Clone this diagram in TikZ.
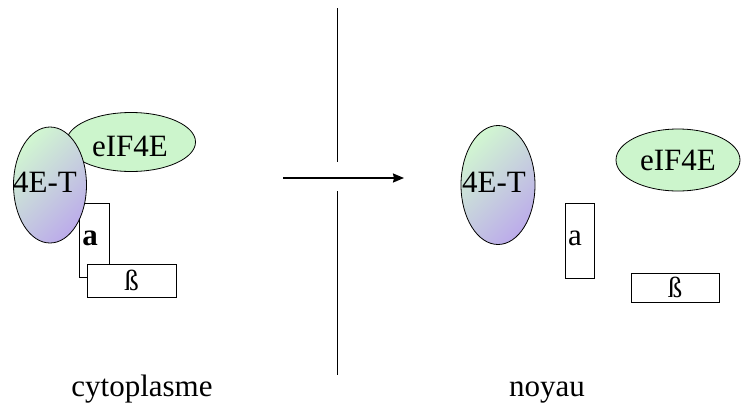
\documentclass[tikz,border=0pt]{standalone}
\usepackage{fontspec}
\setmainfont{Liberation Serif}
\usetikzlibrary{shapes.geometric,arrows.meta}
\definecolor{protgreen}{HTML}{CCF5CC}
\definecolor{protlilac}{HTML}{BCACEA}
\tikzset{
  lbl/.style={font=\fontsize{31}{34}\selectfont},
  eif/.style={ellipse, draw=black, line width=0.8pt, fill=protgreen, inner sep=0pt, lbl},
  fourET/.style={ellipse, draw=black, line width=0.8pt, inner sep=0pt,
    top color=protgreen!90!white, bottom color=protlilac, shading angle=45, lbl},
  subunit/.style={rectangle, draw=black, line width=0.8pt, fill=white, inner sep=0pt, lbl},
}
\begin{document}
\begin{tikzpicture}[x=1pt,y=-1pt]
\useasboundingbox (0,0) rectangle (744,405);

% cytoplasm: bound complex
\node[eif, minimum width=129pt, minimum height=59pt] (eL) at (131,142) {};
\node[lbl] at (130,146) {eIF4E};
\node[subunit, minimum width=30pt, minimum height=74pt] (aL) at (94,240) {};
\node[fourET, minimum width=73pt, minimum height=116pt] (tL) at (50,185) {};
\node[lbl] at (45,182) {4E-T};
\node[lbl, font=\fontsize{31}{34}\selectfont\bfseries] at (90,238) {a};
\node[subunit, minimum width=89pt, minimum height=33pt] (bL) at (131.5,280.5) {\fontsize{29}{31}\selectfont ß};

% nucleus: dissociated partners
\node[fourET, minimum width=74pt, minimum height=119pt] (tR) at (498,185) {};
\node[lbl] at (494,182) {4E-T};
\node[eif, minimum width=124pt, minimum height=62pt] (eR) at (678,160) {eIF4E};
\node[subunit, minimum width=29pt, minimum height=75pt] (aR) at (579.5,240.5) {};
\node[lbl] at (575,238) {a};
\node[subunit, minimum width=88pt, minimum height=29pt] (bR) at (675,287.5) {\fontsize{29}{31}\selectfont ß};

% membrane with a pore, and transport arrow
\coordinate (mTop) at (337,8);
\coordinate (mGapTop) at (337,162);
\coordinate (mGapBot) at (337,191);
\coordinate (mBot) at (337,375);
\draw[line width=0.9pt] (mTop) -- (mGapTop);
\draw[line width=0.9pt] (mGapBot) -- (mBot);
\coordinate (arS) at (283,178);
\coordinate (arE) at (404,178);
\draw[line width=1.6pt, -{Stealth[length=11pt,width=9pt,inset=1pt]}] (arS) -- (arE);

% compartment names
\node[lbl, anchor=base] (cyto) at (142,396) {cytoplasme};
\node[lbl, anchor=base] (noy) at (547,396) {noyau};
\end{tikzpicture}
\end{document}
